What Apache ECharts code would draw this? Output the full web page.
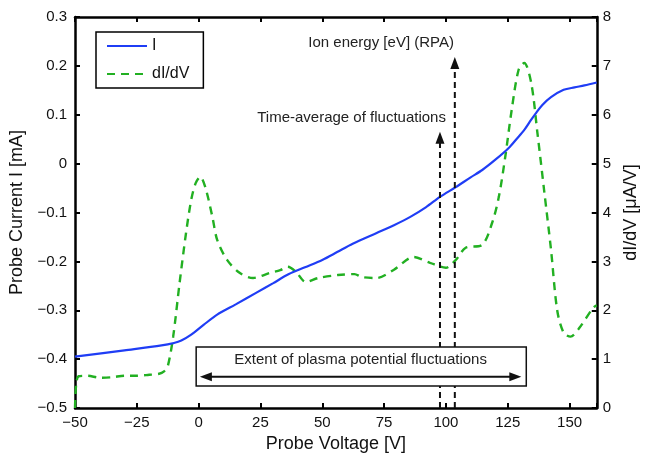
<!DOCTYPE html>
<html>
<head>
<meta charset="utf-8">
<script src="https://cdn.jsdelivr.net/npm/echarts@6/dist/echarts.min.js"></script>
<style>
  html, body { margin: 0; padding: 0; background: #fff; }
  #chart { width: 648px; height: 459px; }
</style>
</head>
<body>
<div id="chart"></div>
<script>
// probe current I [mA] vs probe voltage [V]
const voltsI = [-50, -30, -15, -10, -7, -3, 2, 7.5, 15, 23.4, 30, 36.5, 43, 50, 56, 62.3, 72, 79, 85.6, 92,
  97.6, 104, 110, 114.7, 120, 125.4, 128.5, 131.7, 134.5, 136.5, 139, 142.5, 147.6, 152, 156, 161];
const current = [-0.395, -0.382, -0.372, -0.367, -0.362, -0.35, -0.33, -0.309, -0.288, -0.264, -0.245, -0.226,
  -0.212, -0.197, -0.181, -0.164, -0.142, -0.126, -0.109, -0.089, -0.068, -0.048, -0.028, -0.013, 0.008, 0.032,
  0.05, 0.069, 0.09, 0.104, 0.12, 0.136, 0.151, 0.156, 0.16, 0.166];

// dI/dV [uA/V] vs probe voltage [V]
const voltsD = [-50, -49.5, -48.5, -45, -40, -35, -30, -25, -20, -16, -14, -12.5, -10.3, -7.7, -5.1, -3, -1.2,
  0.7, 2.8, 5.6, 7.5, 11.5, 16.7, 22, 28.6, 33, 36, 39.3, 43.3, 48.4, 56.3, 63, 66, 72, 79, 87, 93.6, 100, 104,
  108, 114.7, 118.7, 121.4, 124, 126.6, 129.4, 131.7, 134.5, 137, 139.7, 142.5, 145, 147.6, 150.4, 154, 159.5, 161];
const dIdV = [0.0, 0.5, 0.65, 0.66, 0.62, 0.63, 0.66, 0.66, 0.68, 0.7, 0.75, 0.85, 1.46, 2.56, 3.58, 4.26, 4.6,
  4.73, 4.5, 3.9, 3.44, 3.03, 2.76, 2.66, 2.76, 2.82, 2.89, 2.79, 2.58, 2.66, 2.72, 2.74, 2.68, 2.66, 2.83, 3.09,
  2.97, 2.87, 3.03, 3.28, 3.34, 3.79, 4.32, 5.14, 6.1, 6.92, 7.06, 6.65, 5.63, 4.46, 3.24, 2.0, 1.54, 1.46, 1.64,
  2.05, 2.1];

// annotation positions (volts)
const timeAvgV = 97.6;
const ionEnergyV = 103.6;
const extentV = [0.5, 130.5];

const FONT = 'Liberation Sans, Arial, Helvetica, sans-serif';
const minus = s => s.replace('-', '\u2212');

const chart = echarts.init(document.getElementById('chart'), null, { renderer: 'canvas' });

const axisLine = { onZero: false, lineStyle: { color: '#000', width: 2.5 } };
const axisTick = { inside: true, length: 5, lineStyle: { color: '#000', width: 2 } };

const option = {
  backgroundColor: '#fff',
  animation: false,
  grid: { left: 75, right: 41, top: 17, bottom: 51 },
  legend: {
    left: 96,
    top: 32,
    orient: 'vertical',
    padding: [6, 14, 6, 10],
    itemWidth: 40,
    itemHeight: 14,
    itemGap: 12,
    borderColor: '#000',
    borderWidth: 1.5,
    backgroundColor: '#fff',
    itemStyle: { opacity: 0 },
    textStyle: { fontFamily: FONT, fontSize: 16, color: '#111' },
    data: ['I', 'dI/dV']
  },
  xAxis: [
    {
      type: 'value',
      min: -50,
      max: 161,
      interval: 25,
      position: 'bottom',
      axisLine: axisLine,
      axisTick: axisTick,
      splitLine: { show: false },
      axisLabel: {
        fontFamily: FONT, fontSize: 15, color: '#111', margin: 7,
        formatter: v => (v % 25 === 0 ? minus(String(v)) : '')
      },
      name: 'Probe Voltage [V]',
      nameLocation: 'middle',
      nameGap: 22,
      nameTextStyle: { fontFamily: FONT, fontSize: 18, color: '#111' }
    },
    {
      type: 'value',
      min: -50,
      max: 161,
      interval: 25,
      position: 'top',
      axisLine: axisLine,
      axisTick: axisTick,
      axisLabel: { show: false },
      splitLine: { show: false }
    }
  ],
  yAxis: [
    {
      type: 'value',
      min: -0.5,
      max: 0.3,
      interval: 0.1,
      position: 'left',
      axisLine: axisLine,
      axisTick: axisTick,
      splitLine: { show: false },
      axisLabel: {
        fontFamily: FONT, fontSize: 15, color: '#111', margin: 8,
        formatter: v => {
          const r = Math.round(v * 10) / 10;
          return r === 0 ? '0' : minus(r.toFixed(1));
        }
      },
      name: 'Probe Current I [mA]',
      nameLocation: 'middle',
      nameGap: 47,
      nameRotate: 90,
      nameTextStyle: { fontFamily: FONT, fontSize: 18, color: '#111' }
    },
    {
      type: 'value',
      min: 0,
      max: 8,
      interval: 1,
      position: 'right',
      axisLine: axisLine,
      axisTick: axisTick,
      splitLine: { show: false },
      axisLabel: { fontFamily: FONT, fontSize: 15, color: '#111', margin: 6 },
      name: 'dI/dV [\u03bcA/V]',
      nameLocation: 'middle',
      nameGap: 25,
      nameRotate: 90,
      nameTextStyle: { fontFamily: FONT, fontSize: 18, color: '#111' }
    }
  ],
  series: [
    {
      name: 'I',
      type: 'line',
      xAxisIndex: 0,
      yAxisIndex: 0,
      symbol: 'none',
      smooth: 0.3,
      lineStyle: { color: '#1f3df5', width: 2.2 },
      itemStyle: { color: '#1f3df5' },
      data: voltsI.map((v, i) => [v, current[i]]),
      z: 3
    },
    {
      name: 'dI/dV',
      type: 'line',
      xAxisIndex: 0,
      yAxisIndex: 1,
      symbol: 'none',
      smooth: 0.3,
      lineStyle: { color: '#22b022', width: 2.4, type: [8, 6] },
      itemStyle: { color: '#22b022' },
      data: voltsD.map((v, i) => [v, dIdV[i]]),
      z: 2
    }
  ]
};

chart.setOption(option);

// annotations placed from data coordinates
const px = (v, i) => chart.convertToPixel({ xAxisIndex: 0, yAxisIndex: 0 }, [v, i]);

function upArrow(v, tipI) {
  const base = px(v, -0.5);
  const tip = px(v, tipI);
  return [
    {
      type: 'line', z: 50, silent: true,
      shape: { x1: base[0], y1: base[1], x2: tip[0], y2: tip[1] + 10 },
      style: { stroke: '#111', lineWidth: 2, lineDash: [6, 4] }
    },
    {
      type: 'polygon', z: 51, silent: true,
      shape: { points: [[tip[0], tip[1]], [tip[0] - 4.5, tip[1] + 12], [tip[0] + 4.5, tip[1] + 12]] },
      style: { fill: '#111' }
    }
  ];
}

const boxTL = px(-1, -0.375);
const boxBR = px(132.5, -0.455);
const arrL = px(extentV[0], -0.436);
const arrR = px(extentV[1], -0.436);
const extText = px((extentV[0] + extentV[1]) / 2, -0.401);
const timeText = px(100, 0.093);
const ionText = px(73.8, 0.247);

const graphics = []
  .concat(upArrow(timeAvgV, 0.065))
  .concat(upArrow(ionEnergyV, 0.218))
  .concat([
    {
      type: 'rect', z: 60, silent: true,
      shape: { x: boxTL[0], y: boxTL[1], width: boxBR[0] - boxTL[0], height: boxBR[1] - boxTL[1] },
      style: { fill: '#fff', stroke: '#111', lineWidth: 1.5 }
    },
    {
      type: 'line', z: 61, silent: true,
      shape: { x1: arrL[0] + 10, y1: arrL[1], x2: arrR[0] - 10, y2: arrR[1] },
      style: { stroke: '#111', lineWidth: 2 }
    },
    {
      type: 'polygon', z: 61, silent: true,
      shape: { points: [[arrL[0], arrL[1]], [arrL[0] + 12, arrL[1] - 4.5], [arrL[0] + 12, arrL[1] + 4.5]] },
      style: { fill: '#111' }
    },
    {
      type: 'polygon', z: 61, silent: true,
      shape: { points: [[arrR[0], arrR[1]], [arrR[0] - 12, arrR[1] - 4.5], [arrR[0] - 12, arrR[1] + 4.5]] },
      style: { fill: '#111' }
    },
    {
      type: 'text', z: 62, silent: true,
      x: extText[0], y: extText[1],
      style: {
        text: 'Extent of plasma potential fluctuations',
        font: '15px ' + FONT, fill: '#222', align: 'center', verticalAlign: 'middle'
      }
    },
    {
      type: 'text', z: 62, silent: true,
      x: timeText[0], y: timeText[1],
      style: {
        text: 'Time-average of fluctuations',
        font: '15px ' + FONT, fill: '#222', align: 'right', verticalAlign: 'middle'
      }
    },
    {
      type: 'text', z: 62, silent: true,
      x: ionText[0], y: ionText[1],
      style: {
        text: 'Ion energy [eV] (RPA)',
        font: '15px ' + FONT, fill: '#222', align: 'center', verticalAlign: 'middle'
      }
    }
  ]);

chart.setOption({ graphic: graphics });
</script>
</body>
</html>
